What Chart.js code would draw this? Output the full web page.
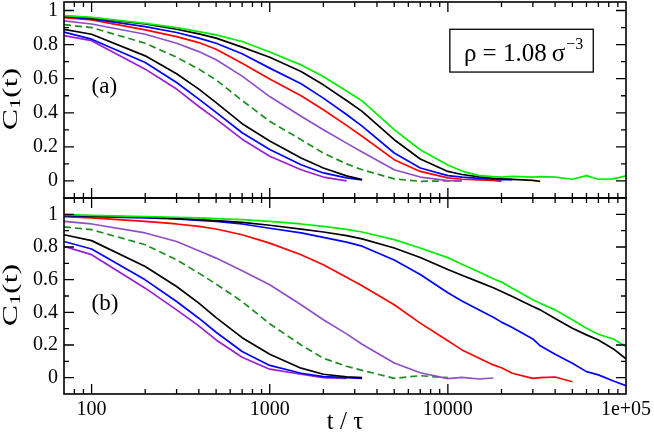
<!DOCTYPE html>
<html>
<head>
<meta charset="utf-8">
<script src="https://cdn.jsdelivr.net/npm/chart.js@4.4.0/dist/chart.umd.min.js"></script>
<style>
  html, body { margin: 0; padding: 0; background: #fff; }
  #wrap { position: relative; width: 654px; height: 441px; overflow: hidden; }
  canvas { position: absolute; left: 0; }
  #cA { top: 0; }
  #cB { top: 196px; }
</style>
</head>
<body>
<div id="wrap">
  <canvas id="cA" width="654" height="200"></canvas>
  <canvas id="cB" width="654" height="245"></canvas>
</div>
<script>
// time grid shared by every curve (t / tau), curves that stop early just have shorter arrays
const T = [70, 100, 200, 300, 400, 500, 700, 1000, 1500, 2000, 2700, 3300, 5000, 7000,
           10000, 12000, 15000, 18000, 20000, 23000, 30000, 33000, 40000, 50000, 60000, 70000, 85000, 100000];

// panel (a)
const gA  = [.970,.960,.925,.900,.876,.857,.818,.757,.681,.613,.528,.470,.301,.183,.094,.058,.031,.025,.023,.027,.023,.025,.022,.010,.031,.010,.012,.030];
const kA1 = [.968,.957,.921,.890,.863,.838,.785,.726,.642,.564,.472,.408,.242,.129,.056,.038,.024,.016,.012,.009,.003,-.002];
const bA1 = [.964,.951,.906,.871,.838,.808,.746,.662,.570,.486,.390,.322,.164,.076,.031,.022,.015,.010,.008,.008];
const rA  = [.958,.945,.886,.847,.812,.773,.691,.598,.500,.418,.326,.262,.125,.056,.018,.010,.006,.003,-.002];
const pA1 = [.939,.921,.861,.808,.759,.711,.615,.495,.380,.301,.222,.170,.066,.023,.002,.000];
const dA  = [.917,.900,.808,.726,.656,.593,.472,.350,.242,.164,.100,.066,.012,-.002,.000,.000];
const kA2 = [.890,.861,.734,.629,.539,.460,.336,.235,.135,.076,.030,.008];
const bA2 = [.873,.832,.695,.578,.480,.402,.283,.185,.095,.047,.018,.006];
const pA2 = [.853,.823,.656,.539,.437,.363,.245,.145,.066,.023,.001];

// panel (b)
const gB  = [.998,.994,.986,.982,.978,.974,.967,.957,.941,.926,.908,.892,.845,.794,.735,.695,.647,.606,.585,.548,.477,.456,.415,.354,.303,.266,.237,.190];
const kB1 = [.994,.990,.982,.974,.967,.961,.951,.933,.910,.892,.870,.850,.794,.736,.662,.627,.585,.550,.528,.497,.436,.415,.362,.303,.262,.231,.176,.115];
const bB1 = [.992,.986,.978,.972,.963,.957,.941,.915,.886,.859,.830,.805,.720,.632,.520,.470,.415,.370,.340,.307,.237,.195,.143,.088,.037,.017,-.020,-.049];
const rB  = [.986,.978,.957,.941,.926,.910,.875,.824,.753,.691,.615,.563,.446,.334,.226,.170,.119,.078,.061,.027,-.004,.000,.004,-.025];
const pB1 = [.957,.941,.886,.834,.777,.732,.654,.569,.446,.355,.268,.205,.090,.030,-.006,.002,-.008,-.002];
const dB  = [.923,.906,.814,.722,.640,.573,.466,.330,.200,.119,.070,.045,-.004,.012,.000];
const kB2 = [.875,.839,.681,.558,.456,.368,.245,.143,.058,.021,.005,.000];
const bB2 = [.834,.788,.599,.466,.364,.278,.160,.075,.027,.006,.000,-.004];
const pB2 = [.804,.753,.548,.415,.317,.231,.125,.052,.021,.000,-.004];

// axes
const xMin = 70, xMax = 100000;
const xTickVals = [100, 1000, 10000, 100000];
const xTickLabels = ['100', '1000', '10000', '1e+05'];
const yTickVals = [0, 0.2, 0.4, 0.6, 0.8, 1];
const yTickLabels = ['0', '0.2', '0.4', '0.6', '0.8', '1'];
const yMinorVals = [0.1, 0.3, 0.5, 0.7, 0.9];

const FAM = '"Liberation Serif", "Times New Roman", serif';
Chart.defaults.font.family = FAM;
Chart.defaults.color = '#000';

// same colour order in both panels, top curve first
const styles = [
  {color: '#00ee00'}, {color: '#000000'}, {color: '#0000ff'}, {color: '#ff0000'},
  {color: '#8e4fc9'}, {color: '#1e8c1e', dash: [7, 4]},
  {color: '#000000'}, {color: '#0000ff'}, {color: '#9a1ed6'}
];

function makeDatasets(list) {
  return list.map((vals, j) => ({
    data: vals.map((v, i) => ({x: T[i], y: v})),
    borderColor: styles[j].color,
    borderDash: styles[j].dash || [],
    borderWidth: 1.7,
    borderJoinStyle: 'round',
    pointRadius: 0,
    tension: 0,
    fill: false
  }));
}

// x minor ticks: 2..9 times every decade
const xMinor = [];
for (let d = 10; d < xMax; d *= 10) {
  for (let k = 2; k <= 9; k++) {
    const v = k * d;
    if (v > xMin && v < xMax) xMinor.push(v);
  }
}

function xScale(showLabels) {
  return {
    type: 'logarithmic', min: xMin, max: xMax, display: showLabels,
    grid: {display: false, drawTicks: false}, border: {display: false},
    afterBuildTicks: s => { s.ticks = xTickVals.map(v => ({value: v})); },
    ticks: {padding: 4, maxRotation: 0, autoSkip: false, font: {size: 20},
            callback: (v, i) => xTickLabels[i]},
    afterFit: s => { if (showLabels) { s.height = 47; } s.paddingLeft = 0; s.paddingRight = 0; }
  };
}

function yScale(maxV) {
  return {
    type: 'linear', min: -0.1, max: maxV,
    grid: {display: false, drawTicks: false}, border: {display: false},
    afterBuildTicks: s => { s.ticks = yTickVals.map(v => ({value: v})); },
    ticks: {padding: 6, font: {size: 20}, callback: (v, i) => yTickLabels[i]},
    afterFit: s => { s.width = 64; s.paddingTop = 0; s.paddingBottom = 0; }
  };
}

// inward ticks on all four sides plus the frame
const framePlugin = {
  id: 'frame',
  afterDatasetsDraw(chart) {
    const {ctx, chartArea: a} = chart;
    const x = chart.scales.x, y = chart.scales.y;
    ctx.save();
    ctx.strokeStyle = '#000';
    ctx.lineWidth = 1.3;
    ctx.beginPath();
    const tx = (v, len) => {
      const p = x.getPixelForValue(v);
      ctx.moveTo(p, a.bottom); ctx.lineTo(p, a.bottom - len);
      ctx.moveTo(p, a.top); ctx.lineTo(p, a.top + len);
    };
    const ty = (v, len) => {
      const p = y.getPixelForValue(v);
      ctx.moveTo(a.left, p); ctx.lineTo(a.left + len, p);
      ctx.moveTo(a.right, p); ctx.lineTo(a.right - len, p);
    };
    xTickVals.forEach(v => { if (v < xMax) tx(v, 10); });
    xMinor.forEach(v => tx(v, 5));
    yTickVals.forEach(v => ty(v, 10));
    yMinorVals.forEach(v => ty(v, 5));
    ctx.stroke();
    ctx.lineWidth = 1.6;
    ctx.strokeRect(a.left, a.top, a.right - a.left, a.bottom - a.top);
    ctx.restore();
  }
};

function drawYTitle(ctx, cx, cy) {
  ctx.save();
  ctx.translate(cx, cy);
  ctx.rotate(-Math.PI / 2);
  ctx.scale(1.45, 1);
  ctx.fillStyle = '#000';
  ctx.textBaseline = 'alphabetic';
  ctx.textAlign = 'left';
  ctx.font = '22px ' + FAM;
  const wC = ctx.measureText('C').width;
  const wT = ctx.measureText('(t)').width;
  ctx.font = '15px ' + FAM;
  const w1 = ctx.measureText('1').width;
  let px = -(wC + w1 + wT) / 2;
  ctx.font = '22px ' + FAM;
  ctx.fillText('C', px, 7);
  px += wC;
  ctx.font = '15px ' + FAM;
  ctx.fillText('1', px, 10);
  px += w1;
  ctx.font = '22px ' + FAM;
  ctx.fillText('(t)', px, 7);
  ctx.restore();
}

function textPlugin(opts) {
  return {
    id: 'panelText',
    afterDraw(chart) {
      const {ctx, chartArea: a} = chart;
      const x = chart.scales.x, y = chart.scales.y;
      drawYTitle(ctx, 10, (a.top + a.bottom) / 2 - 1);
      ctx.save();
      ctx.fillStyle = '#000';
      ctx.textBaseline = 'alphabetic';
      ctx.textAlign = 'left';
      ctx.font = '23px ' + FAM;
      ctx.fillText(opts.label, x.getPixelForValue(100), y.getPixelForValue(opts.labelY));
      if (opts.box) {
        const l = x.getPixelForValue(10260), r = x.getPixelForValue(65500);
        const t = y.getPixelForValue(0.89), b = y.getPixelForValue(0.639);
        ctx.strokeStyle = '#000';
        ctx.lineWidth = 1.3;
        ctx.strokeRect(l, t, r - l, b - t);
        const bx = x.getPixelForValue(12300), by = y.getPixelForValue(0.702);
        ctx.font = '25px ' + FAM;
        const main = 'ρ = 1.08\u2009σ';
        ctx.fillText(main, bx, by);
        const w = ctx.measureText(main).width;
        ctx.font = '16px ' + FAM;
        ctx.fillText('\u22123', bx + w + 1, by - 12);
      }
      if (opts.xTitle) {
        ctx.font = '25px ' + FAM;
        ctx.textAlign = 'center';
        ctx.fillText('t / τ', (a.left + a.right) / 2, a.bottom + 35);
      }
      ctx.restore();
    }
  };
}

function makeChart(id, list, yMax, showX, pad, opts) {
  return new Chart(document.getElementById(id), {
    type: 'line',
    data: {datasets: makeDatasets(list)},
    options: {
      responsive: false,
      animation: false,
      layout: {padding: pad},
      scales: {x: xScale(showX), y: yScale(yMax)},
      plugins: {legend: {display: false}, tooltip: {enabled: false}}
    },
    plugins: [framePlugin, textPlugin(opts)]
  });
}

makeChart('cA', [gA, kA1, bA1, rA, pA1, dA, kA2, bA2, pA2], 1.05, false,
          {left: 0, right: 28, top: 2, bottom: 2}, {label: '(a)', labelY: 0.517, box: true});
makeChart('cB', [gB, kB1, bB1, rB, pB1, dB, kB2, bB2, pB2], 1.1, true,
          {left: 0, right: 28, top: 2, bottom: 0}, {label: '(b)', labelY: 0.415, xTitle: true});
</script>
</body>
</html>
